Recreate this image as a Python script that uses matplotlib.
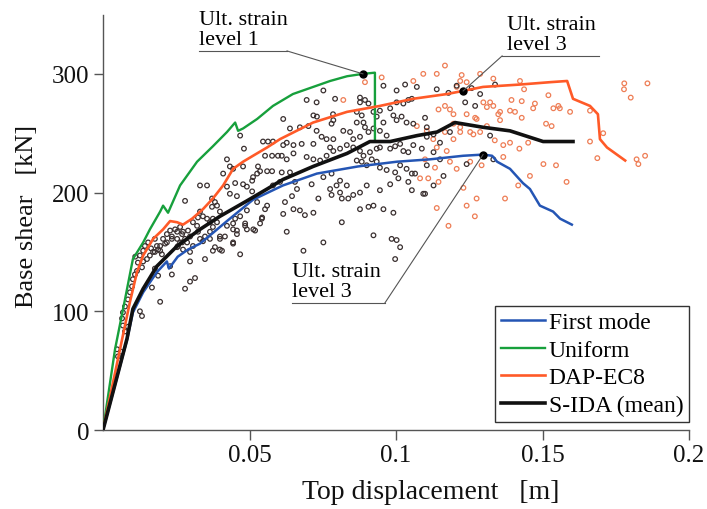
import numpy as np
import matplotlib
matplotlib.use("Agg")
import matplotlib.pyplot as plt
from matplotlib.lines import Line2D

plt.rcParams["font.family"] = ["Liberation Serif", "DejaVu Serif"]

# ---- pushover curves: top displacement [m] vs base shear [kN] ----
first_mode_disp = [0.0, 0.0082, 0.0102, 0.0137, 0.0184, 0.0218, 0.0225, 0.0255, 0.029,
                   0.0331, 0.0375, 0.0423, 0.0512, 0.0614, 0.073, 0.087, 0.1003, 0.1116,
                   0.1229, 0.1297, 0.1328, 0.1345, 0.1389, 0.1433, 0.1457, 0.1491, 0.1536,
                   0.156, 0.160]
first_mode_shear = [0, 76, 99, 116, 133, 142, 136, 146, 152, 157, 166, 176, 194, 206, 216,
                    222, 226, 228, 231, 232, 231, 226, 220, 208, 203, 189, 184, 178, 173]

uniform_disp = [0.0, 0.0041, 0.0075, 0.0102, 0.0137, 0.016, 0.0195, 0.0205, 0.0222, 0.0263,
                0.0321, 0.0375, 0.0423, 0.0451, 0.0461, 0.0478, 0.0526, 0.058, 0.0648,
                0.0775, 0.0833, 0.0887, 0.0928, 0.0928]
uniform_shear = [0, 68, 110, 144, 158, 169, 184, 189, 183, 206, 226, 239, 251, 259, 252, 254,
                 262, 273, 283, 294, 298, 300, 301, 243]

dap_disp = [0.0, 0.0058, 0.0092, 0.0116, 0.0137, 0.0171, 0.0205, 0.0229, 0.0253, 0.0273,
            0.0304, 0.0341, 0.0375, 0.041, 0.0444, 0.0478, 0.0512, 0.056, 0.0604, 0.0717,
            0.0833, 0.0945, 0.1058, 0.1174, 0.1297, 0.1423, 0.1526, 0.1584, 0.1604, 0.1662,
            0.1689, 0.1696, 0.172, 0.1782]
dap_shear = [0, 68, 108, 133, 147, 161, 169, 176, 175, 173, 178, 186, 195, 206, 220, 226,
             231, 238, 245, 259, 268, 273, 279, 283, 289, 291, 293, 294, 279, 273, 266, 245,
             238, 227]

sida_mean_disp = [0.0, 0.0082, 0.0102, 0.0137, 0.0184, 0.0253, 0.0331, 0.0399, 0.0491,
                  0.056, 0.0614, 0.0717, 0.0833, 0.0911, 0.098, 0.1072, 0.114, 0.1201,
                  0.1297, 0.1389, 0.1502, 0.1604]
sida_mean_shear = [0, 77, 102, 119, 138, 155, 169, 180, 193, 203, 211, 222, 233, 243, 243,
                   248, 251, 259, 255, 252, 243, 243]

# ---- single-record IDA points: (top displacement [mm], base shear [kN]) ----
sida_points = [
    (4.8, 68), (5.1, 62), (6.1, 66), (6.5, 94), (6.8, 88), (7.5, 83), (8.5, 87), (6.8, 99),
    (7.5, 104), (8.5, 110), (9.2, 116), (9.9, 121), (10.2, 127), (10.9, 131), (11.6, 134),
    (13.3, 137), (13.7, 142), (15.0, 144), (16.0, 147), (17.1, 150), (18.8, 152), (19.5, 155),
    (21.8, 158), (20.5, 161), (17.7, 161), (13.7, 151), (11.0, 146), (11.9, 141), (12.6, 147),
    (14.3, 155), (15.4, 158), (16.4, 153), (22.9, 168), (23.5, 163), (25.3, 167), (27.0, 165),
    (28.0, 161), (29.7, 163), (28.7, 158), (26.3, 158), (25.3, 154), (27.3, 152), (29.7, 150),
    (30.7, 155), (33.1, 161), (34.8, 163), (36.5, 167), (37.5, 171), (38.9, 175), (37.5, 178),
    (39.9, 184), (29.7, 142), (22.9, 138), (23.5, 131), (17.7, 136), (18.8, 130), (19.5, 108),
    (16.7, 120), (12.6, 100), (13.3, 96), (28.0, 119), (29.7, 125), (31.4, 128), (34.8, 144),
    (38.2, 154), (40.6, 151), (44.4, 157), (46.8, 148), (39.9, 163), (41.6, 163), (44.4, 174),
    (45.7, 168), (48.5, 174),
    (46.8, 248), (48.1, 237), (54.6, 243), (56.3, 243), (58.0, 243), (55.3, 231), (57.7, 231),
    (59.7, 231), (42.3, 228), (43.3, 222), (44.4, 220), (47.8, 222), (52.9, 222), (53.6, 218),
    (52.6, 216), (51.2, 213), (50.9, 210), (56.0, 218), (57.7, 218), (41.0, 216), (33.1, 206),
    (35.5, 206), (45.1, 208), (47.8, 207), (42.3, 205), (43.3, 199), (45.7, 197), (49.1, 205),
    (50.9, 201), (58.0, 206), (28.0, 193), (37.2, 195), (38.2, 192), (38.9, 189), (37.2, 188),
    (52.6, 192), (56.0, 189), (55.3, 186), (49.1, 185), (33.1, 184), (34.1, 180), (32.4, 179),
    (35.5, 178), (36.5, 175), (45.1, 178), (46.8, 180), (42.3, 172), (44.4, 169), (45.7, 165),
    (48.5, 172), (49.1, 169), (54.3, 179), (51.9, 168), (24.6, 169), (26.3, 171), (27.3, 167),
    (29.0, 168), (25.3, 161), (27.0, 158), (25.6, 155), (21.8, 165), (23.5, 161), (30.7, 175),
    (32.1, 172), (32.4, 167), (34.1, 159), (36.5, 161), (39.9, 161), (44.4, 158), (37.5, 151),
    (39.9, 152), (21.2, 157), (18.4, 155), (19.5, 151), (17.7, 150), (20.1, 148),
    (64.5, 197), (66.2, 203), (60.4, 209), (54.2, 178), (53.6, 174), (51.3, 169), (99.7, 144),
    (79.2, 279), (78.5, 266), (73.0, 264),
    (61.5, 262), (69.5, 278), (72.9, 276), (75.2, 286), (87.7, 280), (89.4, 278), (90.6, 275),
    (87.7, 276), (95.7, 290), (103.1, 291), (100.2, 286), (104.2, 278), (102.5, 275),
    (100.2, 276), (93.4, 264), (94.5, 269), (95.7, 259), (98.0, 271), (99.1, 265), (100.2, 261),
    (101.9, 264), (103.6, 259), (105.9, 258), (86.6, 268), (88.3, 265), (88.9, 259), (86.6, 259),
    (92.3, 268), (71.8, 265), (78.6, 261), (78.0, 258), (63.8, 254), (67.2, 255), (70.1, 256),
    (72.9, 252), (74.6, 247), (76.3, 245), (78.6, 245), (82.0, 252), (84.3, 251), (85.4, 245),
    (87.7, 247), (89.4, 255), (90.6, 251), (92.3, 254), (94.5, 252), (96.8, 248), (61.5, 240),
    (62.7, 242), (65.0, 240), (67.8, 241), (71.8, 241), (77.5, 238), (78.6, 235), (80.9, 237),
    (83.2, 240), (85.4, 238), (61.0, 231), (62.7, 228), (65.0, 233), (69.5, 230), (71.8, 228),
    (74.1, 227), (76.3, 231), (87.7, 235), (88.9, 231), (91.1, 234), (93.4, 237), (94.5, 238),
    (98.0, 237), (99.7, 239), (101.4, 241), (102.5, 235), (104.2, 234), (105.9, 240),
    (86.6, 227), (88.3, 226), (90.0, 223), (91.7, 228), (93.4, 226), (94.5, 221), (96.8, 219),
    (99.7, 217), (101.4, 223), (103.6, 220), (105.4, 216), (106.5, 216), (104.2, 209),
    (61.0, 217), (63.8, 217), (65.5, 209), (71.2, 207), (75.2, 213), (78.0, 216), (80.9, 210),
    (79.7, 206), (83.2, 206), (77.5, 203), (78.0, 198), (80.9, 200), (81.5, 195), (83.7, 195),
    (85.4, 198), (87.7, 200), (90.0, 206), (94.5, 202), (98.0, 207), (100.8, 212), (105.4, 202),
    (109.3, 199), (62.1, 192), (65.0, 186), (67.2, 185), (68.9, 181), (73.5, 195), (71.8, 183),
    (87.7, 186), (90.6, 188), (92.3, 189), (95.7, 186), (99.1, 183), (61.5, 182), (62.7, 167),
    (75.2, 158), (68.4, 151), (81.5, 175), (92.3, 164), (98.5, 161), (100.2, 160), (101.4, 154),
    (113.9, 287), (117.9, 284), (120.7, 290), (125.8, 288), (133.8, 291), (128.7, 283),
    (127.0, 273), (123.6, 276), (112.8, 249), (115.0, 242), (118.4, 251), (110.5, 247),
    (112.8, 234), (110.5, 223), (112.8, 206), (116.2, 214), (115.0, 228), (109.9, 199),
    (132.1, 248), (133.2, 228), (124.1, 224), (107.1, 289), (108.8, 237), (105.4, 279),
    (109.9, 263), (110.5, 255),
]

# ---- analyses carried beyond the ultimate strain: (mm, kN) ----
beyond_points = [
    (82.0, 278), (89.4, 293), (95.1, 297), (105.9, 294), (109.3, 300), (113.9, 300),
    (116.7, 307), (120.7, 289), (114.5, 270), (116.7, 273), (118.4, 270), (119.6, 266),
    (107.1, 256), (110.5, 252), (112.7, 245), (116.7, 251), (119.6, 258), (119.6, 245),
    (113.9, 238), (117.3, 235), (109.9, 228), (118.4, 226), (113.3, 221), (120.7, 220),
    (111.0, 212), (108.2, 212), (114.5, 209), (113.9, 187), (117.9, 172),
    (121.9, 255), (127.5, 262), (126.4, 249),
    (122.4, 299), (121.9, 294), (124.1, 293), (128.7, 300), (133.2, 296),
    (129.8, 276), (132.1, 276), (131.0, 272), (133.2, 273), (134.9, 266),
    (124.1, 266), (127.0, 263), (121.9, 251), (125.3, 251), (128.7, 251), (131.0, 256),
    (138.9, 242), (125.3, 226), (136.6, 230), (123.0, 204),
    (142.3, 294), (143.7, 287), (152.0, 282), (147.4, 275), (153.7, 271), (155.4, 273),
    (155.9, 271), (159.4, 268), (139.4, 278), (142.9, 277), (135.5, 268), (138.9, 269),
    (140.6, 268), (142.9, 263), (135.5, 261), (146.8, 271), (151.2, 258), (153.1, 256),
    (142.1, 237), (145.1, 242), (136.6, 240), (133.7, 244), (129.2, 223), (150.3, 224),
    (154.6, 223), (145.7, 214), (158.2, 209), (141.7, 206), (137.2, 195), (127.5, 195),
    (124.1, 189), (126.9, 180), (166.2, 269), (170.7, 250), (166.2, 243), (168.7, 229),
    (182.1, 228), (182.7, 224), (185.0, 231), (177.9, 292), (185.8, 292), (177.8, 287),
    (180.1, 280),
]

# ultimate-strain points marked on the curves (m, kN)
ult_uniform = (0.0887, 300)
ult_dap = (0.1229, 285.6)
ult_first_mode = (0.1297, 232)

C_BLUE = "#2455b4"
C_GREEN = "#17a03c"
C_ORANGE = "#ff5a28"
C_BLACK = "#111111"

fig = plt.figure(figsize=(7.07, 5.10), dpi=100)
ax = fig.add_axes([0.1457, 0.1549, 0.8289, 0.8147])

sida = np.array(sida_points, dtype=float)
beyond = np.array(beyond_points, dtype=float)
ax.scatter(beyond[:, 0] / 1000, beyond[:, 1], s=11, facecolors="none",
           edgecolors="#ee7d55", linewidths=0.9, zorder=2)
ax.scatter(sida[:, 0] / 1000, sida[:, 1], s=11, facecolors="none",
           edgecolors="#3a3030", linewidths=0.9, zorder=2)

ax.plot(first_mode_disp, first_mode_shear, color=C_BLUE, lw=1.8, zorder=3)
ax.plot(uniform_disp, uniform_shear, color=C_GREEN, lw=1.7, zorder=3)
ax.plot(dap_disp, dap_shear, color=C_ORANGE, lw=1.9, zorder=4)
ax.plot(sida_mean_disp, sida_mean_shear, color=C_BLACK, lw=2.6, zorder=5)

for pt in (ult_uniform, ult_dap, ult_first_mode):
    ax.plot(*pt, "o", color="black", ms=5, zorder=6)

# leader annotations for the ultimate-strain points
def ult_label(text, x_text, y_line, x_line_end, leader_start, target):
    ax.text(x_text, y_line + 1.5, text, fontsize=16, ha="left", va="bottom",
            linespacing=1.1, zorder=7, clip_on=False)
    ax.plot([min(x_text, leader_start[0]), x_line_end], [y_line, y_line],
            color="#555555", lw=0.8, clip_on=False, zorder=6)
    ax.plot([leader_start[0], target[0]], [leader_start[1], target[1]],
            color="#555555", lw=0.8, clip_on=False, zorder=6)

ult_label("Ult. strain\nlevel 1", 0.0328, 319.3, 0.0628, (0.0628, 319.3), ult_uniform)
ult_label("Ult. strain\nlevel 3", 0.1379, 315.1, 0.1693, (0.1362, 315.1), ult_dap)
ult_label("Ult. strain\nlevel 3", 0.0645, 107.0, 0.0962, (0.0962, 107.0), ult_first_mode)

ax.set_xlim(0, 0.2)
ax.set_ylim(0, 350)
ax.set_xticks([0.05, 0.1, 0.15, 0.2])
ax.set_xticklabels(["0.05", "0.1", "0.15", "0.2"])
ax.set_yticks([0, 100, 200, 300])
ax.set_yticklabels(["0", "100", "200", "300"])

for side in ("top", "right"):
    ax.spines[side].set_visible(False)
for side in ("left", "bottom"):
    ax.spines[side].set_color("#555555")
    ax.spines[side].set_linewidth(1.0)

ax.tick_params(axis="both", direction="out", colors="#555555", labelcolor="#111111",
               labelsize=18, width=1.0)
ax.tick_params(axis="x", length=7, pad=3)
ax.tick_params(axis="y", length=6.5, pad=3.5)

ax.set_xlabel("Top displacement   [m]", fontsize=20, color="#111111")
ax.set_ylabel("Base shear   [kN]", fontsize=19, color="#111111")
ax.xaxis.set_label_coords(0.559, -0.118)
ax.yaxis.set_label_coords(-0.111, 0.516)

handles = [
    Line2D([], [], color=C_BLUE, lw=1.8),
    Line2D([], [], color=C_GREEN, lw=1.7),
    Line2D([], [], color=C_ORANGE, lw=1.9),
    Line2D([], [], color=C_BLACK, lw=2.6),
]
leg = ax.legend(handles, ["First mode", "Uniform", "DAP-EC8", "S-IDA (mean)"],
                loc="lower right", bbox_to_anchor=(1.0, 0.02), fontsize=17,
                frameon=True, fancybox=False, edgecolor="#333333", framealpha=1,
                handlelength=1.85, handletextpad=0.15, labelspacing=0.25,
                borderpad=0.25, borderaxespad=0.0)
leg.get_frame().set_linewidth(1.0)
leg.set_zorder(10)

fig.savefig("out.png", dpi=100)
